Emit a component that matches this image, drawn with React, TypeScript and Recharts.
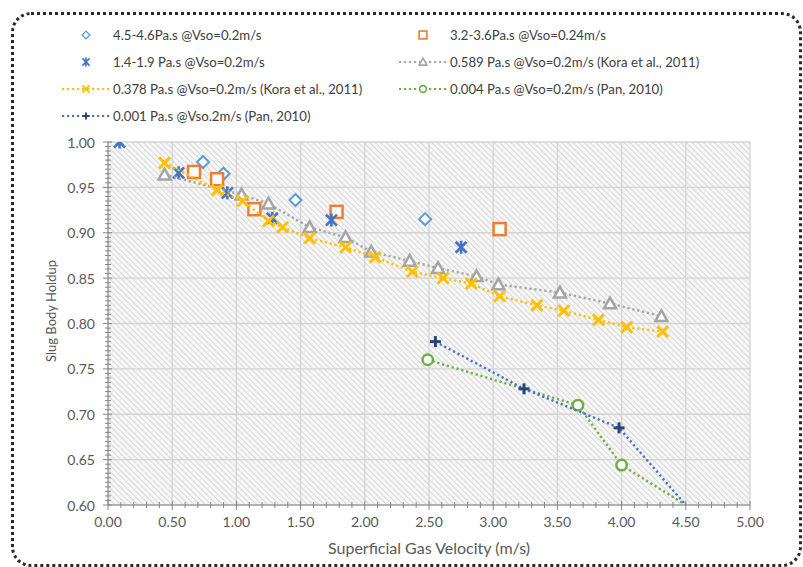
import React from 'react';
import { ComposedChart, Scatter, XAxis, YAxis, CartesianGrid } from 'recharts';

const FONT = 'Lato, "Open Sans", sans-serif';

// ---- data ----
const visc45X = [0.74, 0.9, 1.46, 2.47];
const visc45Y = [0.978, 0.965, 0.936, 0.915];
const visc32X = [0.67, 0.85, 1.14, 1.78, 3.05];
const visc32Y = [0.967, 0.959, 0.926, 0.923, 0.904];
const visc14X = [0.09, 0.55, 0.93, 1.28, 1.74, 2.75];
const visc14Y = [1.0, 0.966, 0.944, 0.916, 0.914, 0.884];
const kora589X = [0.44, 1.04, 1.25, 1.57, 1.85, 2.05, 2.35, 2.57, 2.87, 3.04, 3.52, 3.91, 4.31];
const kora589Y = [0.964, 0.942, 0.932, 0.906, 0.895, 0.879, 0.869, 0.861, 0.852, 0.843, 0.834, 0.822, 0.808];
const kora378X = [0.44, 0.85, 1.05, 1.25, 1.36, 1.57, 1.85, 2.08, 2.37, 2.61, 2.83, 3.05, 3.34, 3.55, 3.82, 4.04, 4.32];
const kora378Y = [0.977, 0.947, 0.935, 0.913, 0.906, 0.894, 0.884, 0.873, 0.857, 0.85, 0.844, 0.83, 0.82, 0.814, 0.804, 0.796, 0.791];
const pan004X = [2.49, 3.66, 4.0, 4.5];
const pan004Y = [0.76, 0.71, 0.644, 0.6];
const pan001X = [2.55, 3.24, 3.98, 4.5];
const pan001Y = [0.78, 0.728, 0.685, 0.6];

const seriesNames = [
  '4.5-4.6Pa.s @Vso=0.2m/s',
  '3.2-3.6Pa.s @Vso=0.24m/s',
  '1.4-1.9 Pa.s @Vso=0.2m/s',
  '0.589 Pa.s @Vso=0.2m/s (Kora et al., 2011)',
  '0.378 Pa.s @Vso=0.2m/s (Kora et al., 2011)',
  '0.004 Pa.s @Vso=0.2m/s (Pan, 2010)',
  '0.001 Pa.s @Vso.2m/s (Pan, 2010)',
];

const xMajorTicks = [0, 0.5, 1, 1.5, 2, 2.5, 3, 3.5, 4, 4.5, 5];
const yMajorTicks = [0.6, 0.65, 0.7, 0.75, 0.8, 0.85, 0.9, 0.95, 1.0];
const X_MIN = 0, X_MAX = 5, Y_MIN = 0.6, Y_MAX = 1.0;
const X_MINOR = 0.1, Y_MINOR = 0.005;

const xAllTicks: number[] = [];
for (let i = 0; i <= Math.round((X_MAX - X_MIN) / X_MINOR); i++) xAllTicks.push(+(X_MIN + i * X_MINOR).toFixed(3));
const yAllTicks: number[] = [];
for (let i = 0; i <= Math.round((Y_MAX - Y_MIN) / Y_MINOR); i++) yAllTicks.push(+(Y_MIN + i * Y_MINOR).toFixed(4));

const zip = (xs: number[], ys: number[]) => xs.map((x, i) => ({ x, y: ys[i] }));

const isMajor = (v: number, arr: number[]) => arr.some((m) => Math.abs(m - v) < 1e-6);

// ---- markers ----
type Kind = 'diamond' | 'square' | 'asterisk' | 'triangle' | 'x' | 'circle' | 'plus';

function Marker({ kind, cx, cy, color, k = 1 }: { kind: Kind; cx: number; cy: number; color: string; k?: number }) {
  const s = 6 * k;
  switch (kind) {
    case 'diamond':
      return <path d={`M${cx},${cy - s}L${cx + s},${cy}L${cx},${cy + s}L${cx - s},${cy}Z`} fill="#fff" stroke={color} strokeWidth={2 * k} />;
    case 'square':
      return <rect x={cx - s} y={cy - s} width={2 * s} height={2 * s} fill="#fff" stroke={color} strokeWidth={2.5 * k} />;
    case 'asterisk': {
      const a = 5.5 * k;
      return (
        <g stroke={color} strokeWidth={2.6 * k} strokeLinecap="butt">
          <line x1={cx - a} y1={cy - a} x2={cx + a} y2={cy + a} />
          <line x1={cx - a} y1={cy + a} x2={cx + a} y2={cy - a} />
          <line x1={cx} y1={cy - a - 1} x2={cx} y2={cy + a + 1} />
        </g>
      );
    }
    case 'triangle':
      return <path d={`M${cx},${cy - s}L${cx + s},${cy + s * 0.8}L${cx - s},${cy + s * 0.8}Z`} fill="#fff" stroke={color} strokeWidth={2.5 * k} strokeLinejoin="miter" />;
    case 'x': {
      const a = 5.5 * k;
      return (
        <g stroke={color} strokeWidth={3 * k}>
          <line x1={cx - a} y1={cy - a} x2={cx + a} y2={cy + a} />
          <line x1={cx - a} y1={cy + a} x2={cx + a} y2={cy - a} />
        </g>
      );
    }
    case 'circle':
      return <circle cx={cx} cy={cy} r={5.2 * k} fill="#fff" stroke={color} strokeWidth={2.5 * k} />;
    case 'plus': {
      const a = 5.5 * k;
      return (
        <g stroke={color} strokeWidth={3 * k}>
          <line x1={cx - a} y1={cy} x2={cx + a} y2={cy} />
          <line x1={cx} y1={cy - a} x2={cx} y2={cy + a} />
        </g>
      );
    }
  }
  return null;
}

const shapeFor = (kind: Kind, color: string) => (props: any) => {
  if (props.payload && props.payload.y <= Y_MIN + 1e-9) return <g />;
  return <Marker kind={kind} cx={props.cx} cy={props.cy} color={color} />;
};

const DOTTED = '2.2 2.8';

const series = [
  { name: seriesNames[0], data: zip(visc45X, visc45Y), kind: 'diamond' as Kind, color: '#5B9BD5', line: null as string | null },
  { name: seriesNames[1], data: zip(visc32X, visc32Y), kind: 'square' as Kind, color: '#ED7D31', line: null },
  { name: seriesNames[2], data: zip(visc14X, visc14Y), kind: 'asterisk' as Kind, color: '#4472C4', line: null },
  { name: seriesNames[3], data: zip(kora589X, kora589Y), kind: 'triangle' as Kind, color: '#A5A5A5', line: '#A5A5A5' },
  { name: seriesNames[4], data: zip(kora378X, kora378Y), kind: 'x' as Kind, color: '#FFC000', line: '#FFC000' },
  { name: seriesNames[5], data: zip(pan004X, pan004Y), kind: 'circle' as Kind, color: '#70AD47', line: '#70AD47' },
  { name: seriesNames[6], data: zip(pan001X, pan001Y), kind: 'plus' as Kind, color: '#264478', line: '#4472C4' },
];

const AXIS_COLOR = '#868686';
const TEXT_COLOR = '#595959';

const YTick = (props: any) => {
  const { x, y, payload } = props;
  const v = payload.value;
  const major = isMajor(v, yMajorTicks);
  return (
    <g>
      <line x1={x - (major ? 5 : 3)} x2={x + (major ? 4 : 3)} y1={y} y2={y} stroke={AXIS_COLOR} strokeWidth={1} />
      {major && (
        <text x={x - 13} y={y} textAnchor="end" dominantBaseline="central" fontSize={14} fill={TEXT_COLOR} fontFamily={FONT}>
          {v.toFixed(2)}
        </text>
      )}
    </g>
  );
};

const XTick = (props: any) => {
  const { x, y, payload } = props;
  const v = payload.value;
  const major = isMajor(v, xMajorTicks);
  return (
    <g>
      <line x1={x} x2={x} y1={y - (major ? 4 : 3)} y2={y + (major ? 5 : 3)} stroke={AXIS_COLOR} strokeWidth={1} />
      {major && (
        <text x={x} y={y + 22} textAnchor="middle" fontSize={14} fill={TEXT_COLOR} fontFamily={FONT}>
          {v.toFixed(2)}
        </text>
      )}
    </g>
  );
};

const LegendItem = ({ s, left, top }: { s: (typeof series)[number]; left: number; top: number }) => (
  <div style={{ position: 'absolute', left, top, height: 18, display: 'flex', alignItems: 'center', whiteSpace: 'nowrap' }}>
    <svg width={52} height={18} style={{ marginRight: 1 }}>
      {s.line && <line x1={2} x2={50} y1={9} y2={9} stroke={s.line} strokeWidth={2.2} strokeDasharray={DOTTED} />}
      <Marker kind={s.kind} cx={26} cy={9} color={s.color} k={0.65} />
    </svg>
    <span style={{ fontFamily: FONT, fontSize: 13.2, color: '#404040' }}>{s.name}</span>
  </div>
);

export default function App() {
  const W = 803, H = 567;
  const plotLeft = 108, plotTop = 142, plotRight = 750, plotBottom = 505;
  const yAxisW = 60, xAxisH = 30;

  const vGen = (p: any) => {
    const sc = p?.xAxis?.scale;
    if (typeof sc === 'function') return xMajorTicks.map((v) => sc(v));
    const o = p.offset;
    return xMajorTicks.map((v) => o.left + ((v - X_MIN) / (X_MAX - X_MIN)) * o.width);
  };
  const hGen = (p: any) => {
    const sc = p?.yAxis?.scale;
    if (typeof sc === 'function') return yMajorTicks.map((v) => sc(v));
    const o = p.offset;
    return yMajorTicks.map((v) => o.top + (1 - (v - Y_MIN) / (Y_MAX - Y_MIN)) * o.height);
  };

  return (
    <div style={{ position: 'absolute', left: 0, top: 0, width: W, height: H, background: '#fff', overflow: 'hidden' }}>
      <svg width={0} height={0} style={{ position: 'absolute' }}>
        <defs>
          <pattern id="hatch" patternUnits="userSpaceOnUse" width={4} height={4} patternTransform="rotate(-45)">
            <rect width={4} height={4} fill="#f7f7f7" />
            <line x1={0} y1={0} x2={0} y2={4} stroke="#cfcfcf" strokeWidth={1.6} />
          </pattern>
        </defs>
      </svg>
      <div
        style={{
          position: 'absolute',
          left: 11,
          top: 12,
          width: 791 - 6,
          height: 555 - 6,
          border: '3px dotted #2a2a2a',
          borderRadius: 20,
        }}
      />
      <div style={{ position: 'absolute', left: 0, top: 0 }}>
        <ComposedChart
          width={W}
          height={H}
          margin={{ top: plotTop, right: W - plotRight, bottom: H - plotBottom - xAxisH, left: plotLeft - yAxisW }}
        >
          <CartesianGrid
            fill="url(#hatch)"
            stroke="#d4d4d4"
            strokeWidth={1.3}
            verticalCoordinatesGenerator={vGen}
            horizontalCoordinatesGenerator={hGen}
          />
          <XAxis
            type="number"
            dataKey="x"
            domain={[X_MIN, X_MAX]}
            ticks={xAllTicks}
            interval={0}
            allowDataOverflow
            height={xAxisH}
            tickSize={0}
            tickMargin={0}
            tickLine={false}
            axisLine={{ stroke: AXIS_COLOR, strokeWidth: 1 }}
            tick={XTick}
          />
          <YAxis
            type="number"
            dataKey="y"
            domain={[Y_MIN, Y_MAX]}
            ticks={yAllTicks}
            interval={0}
            allowDataOverflow
            width={yAxisW}
            tickSize={0}
            tickMargin={0}
            tickLine={false}
            axisLine={{ stroke: AXIS_COLOR, strokeWidth: 1 }}
            tick={YTick}
          />
          {series.map((s) => (
            <Scatter
              key={s.name}
              name={s.name}
              data={s.data}
              isAnimationActive={false}
              line={s.line ? { stroke: s.line, strokeWidth: 2.4, strokeDasharray: DOTTED } : false}
              lineType="joint"
              shape={shapeFor(s.kind, s.color)}
            />
          ))}
        </ComposedChart>
      </div>
      {/* legend */}
      <LegendItem s={series[0]} left={60} top={26} />
      <LegendItem s={series[1]} left={397} top={26} />
      <LegendItem s={series[2]} left={60} top={53} />
      <LegendItem s={series[3]} left={397} top={53} />
      <LegendItem s={series[4]} left={60} top={80} />
      <LegendItem s={series[5]} left={397} top={80} />
      <LegendItem s={series[6]} left={60} top={107} />
      {/* axis titles */}
      <div
        style={{
          position: 'absolute',
          left: (plotLeft + plotRight) / 2 - 200,
          top: 538,
          width: 400,
          textAlign: 'center',
          fontFamily: FONT,
          fontSize: 16,
          color: TEXT_COLOR,
        }}
      >
        Superficial Gas Velocity (m/s)
      </div>
      <div
        style={{
          position: 'absolute',
          left: 51 - 100,
          top: 311 - 10,
          width: 200,
          height: 20,
          lineHeight: '20px',
          textAlign: 'center',
          fontFamily: FONT,
          fontSize: 13,
          color: TEXT_COLOR,
          transform: 'rotate(-90deg)',
        }}
      >
        Slug Body Holdup
      </div>
    </div>
  );
}
